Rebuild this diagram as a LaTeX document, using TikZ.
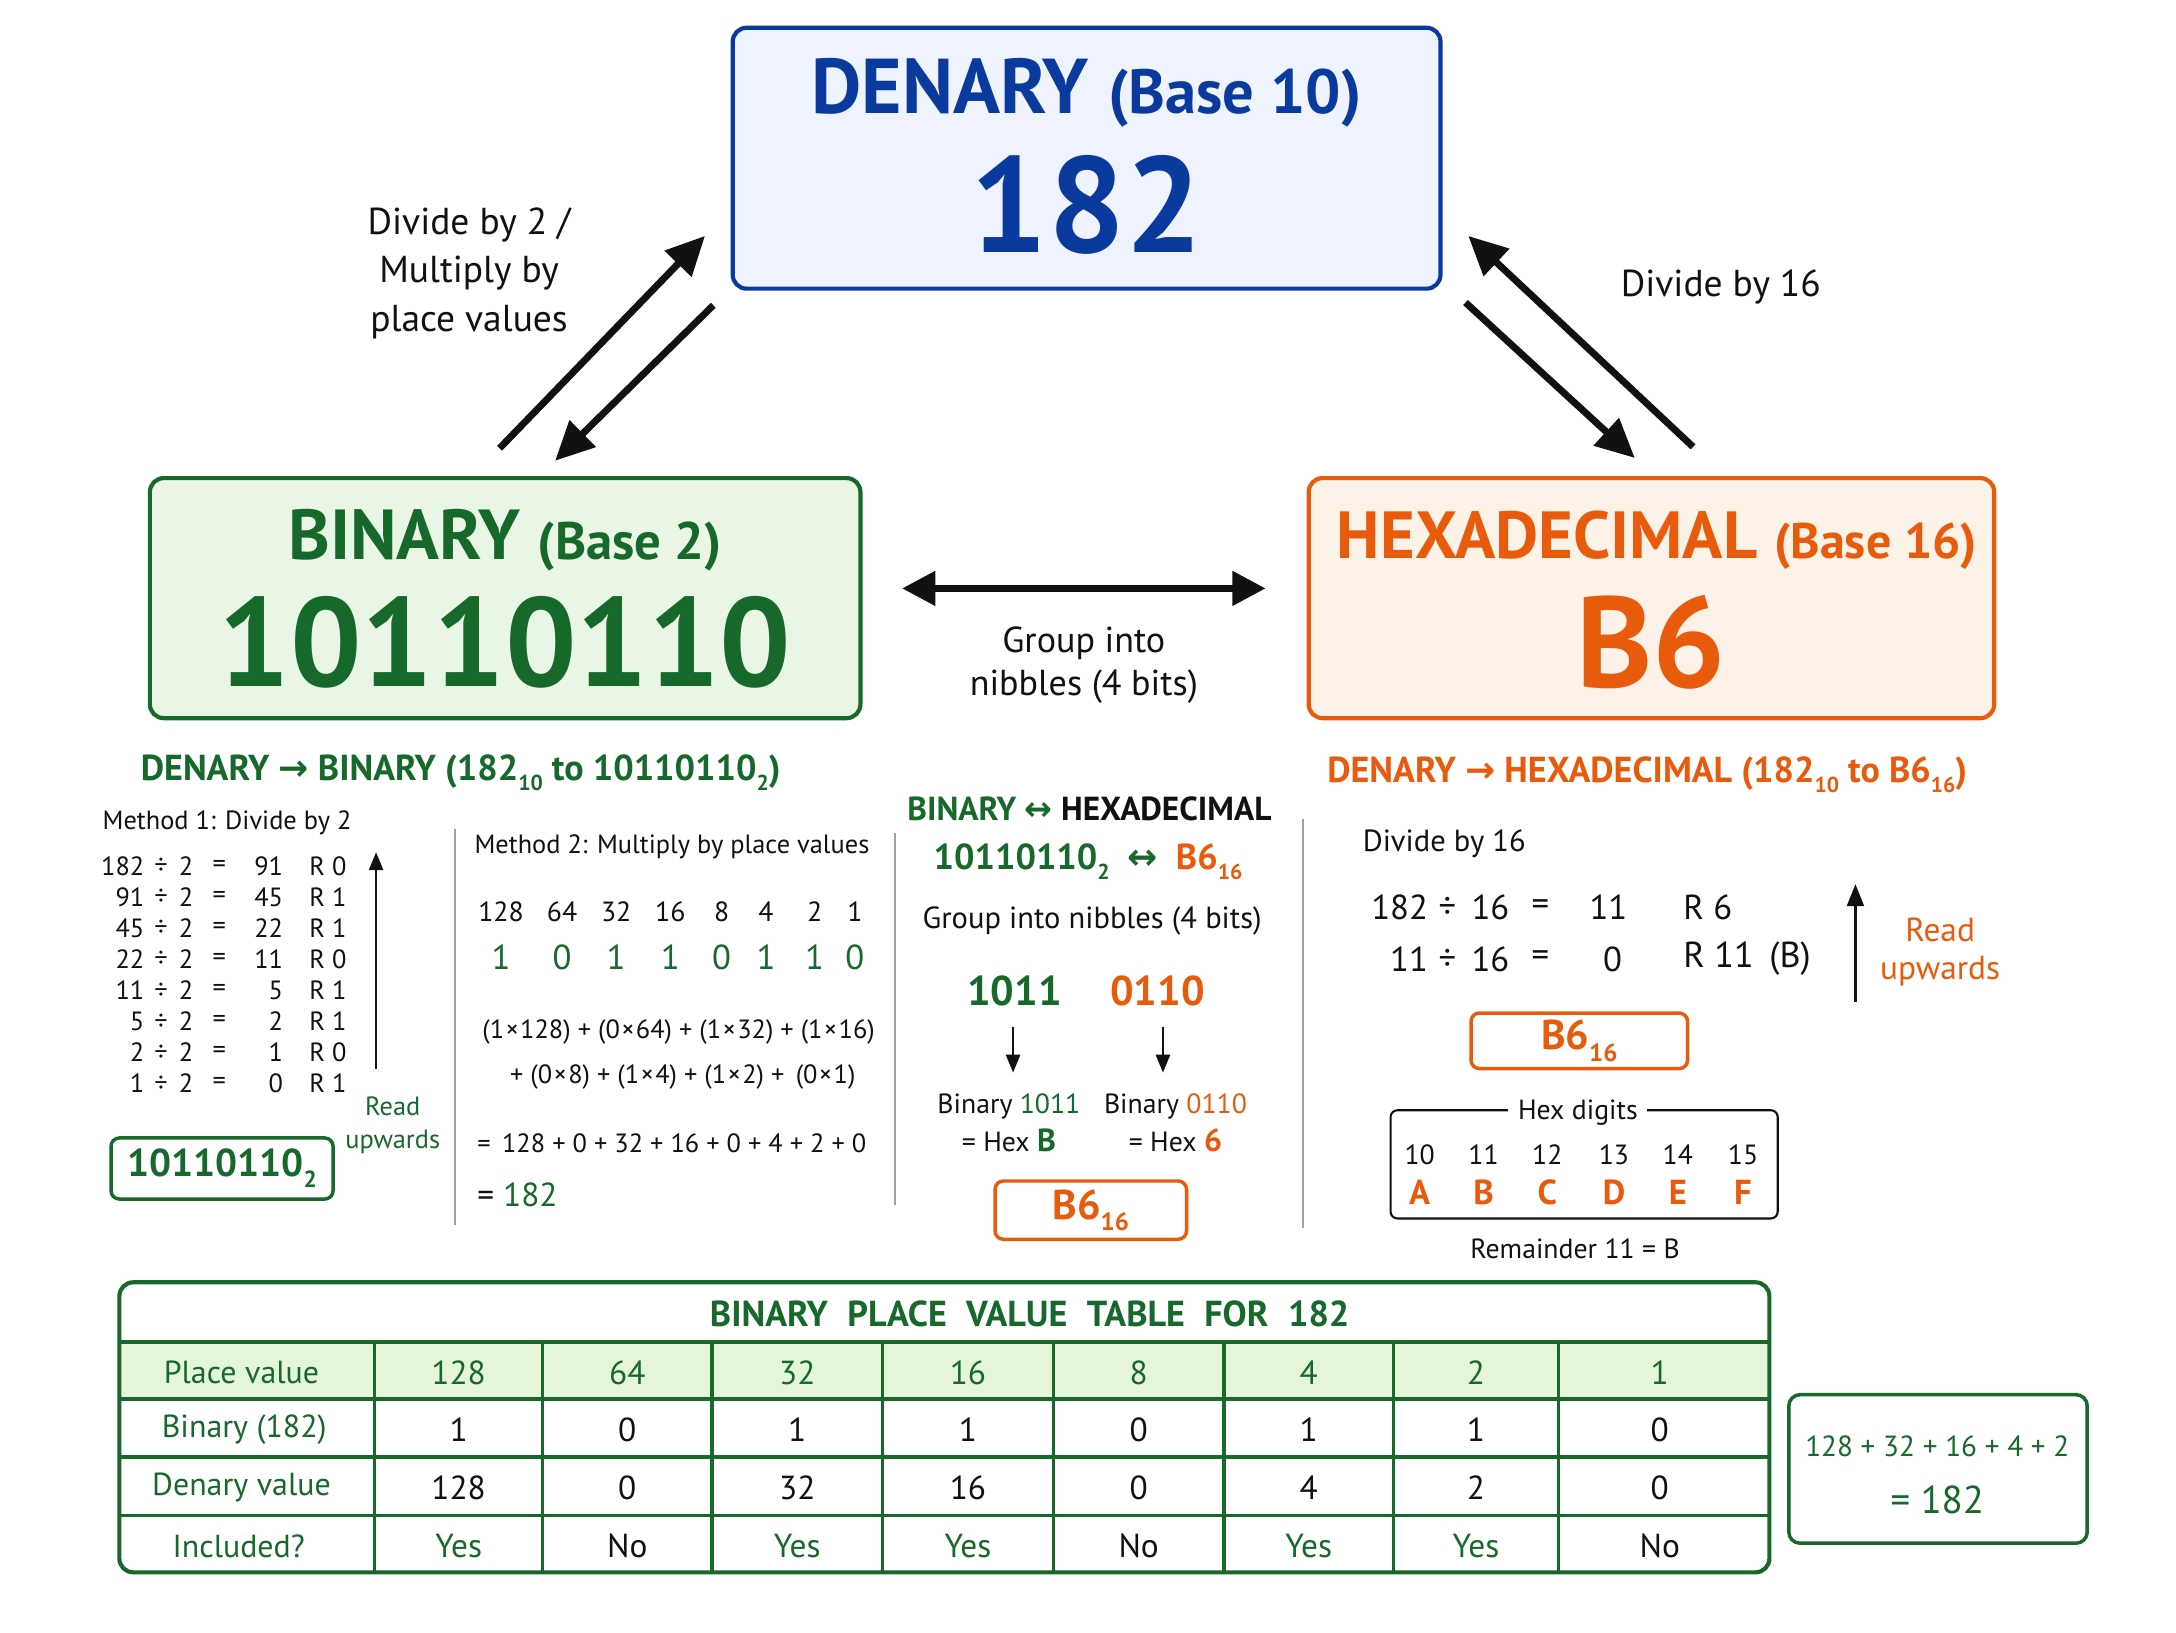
\documentclass[tikz,border=0pt]{standalone}
\usepackage{fontspec}
\usepackage{graphicx}
\setmainfont{PT Sans}
\newfontfamily\sym{DejaVu Sans}
\usetikzlibrary{arrows.meta}
\definecolor{dgreen}{HTML}{17692B}
\definecolor{lgreen}{HTML}{EAF6E5}
\definecolor{hgreen}{HTML}{E4F5D9}
\definecolor{dblue}{HTML}{0B3A9E}
\definecolor{lblue}{HTML}{EEF3FD}
\definecolor{dorange}{HTML}{E85B0C}
\definecolor{lorange}{HTML}{FDF2E8}
\definecolor{sepgray}{HTML}{A0A0A0}
\definecolor{ink}{HTML}{111111}
\newcommand\fsz[1]{\fontsize{#1}{#1}\selectfont}
\newcommand\sbs[1]{\raisebox{-0.28em}{\scalebox{0.6}{#1}}}
\begin{document}
\begin{tikzpicture}[x=1pt,y=-1pt,
  every node/.style={inner sep=0pt, outer sep=0pt, text=ink},
  mainbox/.style={line width=3, rounded corners=10},
  sepline/.style={draw=sepgray, line width=1},
  bigarrow/.style={draw=ink, line width=5, -{Triangle[length=28,width=26]}},
  bigdouble/.style={draw=ink, line width=5, {Triangle[length=24,width=24]}-{Triangle[length=24,width=24]}},
  thinarrow/.style={draw=ink, line width=2, -{Triangle[length=13,width=10]}},
  resbox/.style={line width=2.5, rounded corners=6},
  grid/.style={draw=dgreen, line width=2.5}
]
\useasboundingbox (0,0) rectangle (1568,1176);
\fill[white] (0,0) rectangle (1568,1176);

% ---------- main boxes ----------
\node[mainbox, draw=dblue, fill=lblue, minimum width=510, minimum height=188] (den) at (783,114) {};
\node[text=dblue, font=\bfseries] (denT) at (783,67) {\fsz{56}DENARY \fsz{45}(Base 10)};
\node[text=dblue, font=\fsz{98}\bfseries] (denV) at (783,148) {182};

\node[mainbox, draw=dgreen, fill=lgreen, minimum width=512, minimum height=173] (bin) at (364,431) {};
\node[text=dgreen, font=\bfseries] (binT) at (364,389) {\fsz{51}BINARY \fsz{38}(Base 2)};
\node[text=dgreen, font=\fsz{91}\bfseries] (binV) at (364,463) {10110110};

\node[mainbox, draw=dorange, fill=lorange, minimum width=494, minimum height=173] (hex) at (1190,431) {};
\node[text=dorange, font=\bfseries] (hexT) at (1194,389) {\fsz{48}HEXADECIMAL \fsz{36}(Base 16)};
\node[text=dorange, font=\fsz{93}\bfseries] (hexV) at (1190,463) {B6};

% ---------- big arrows ----------
\coordinate (a1s) at (360,323); \coordinate (a1e) at (508,170);
\coordinate (a2s) at (514,220); \coordinate (a2e) at (400,332);
\coordinate (a3s) at (1220,322); \coordinate (a3e) at (1058,170);
\coordinate (a4s) at (1056,218); \coordinate (a4e) at (1178,330);
\coordinate (hL) at (650,424); \coordinate (hR) at (912,424);
\draw[bigarrow] (a1s) -- (a1e);
\draw[bigarrow] (a2s) -- (a2e);
\draw[bigarrow] (a3s) -- (a3e);
\draw[bigarrow] (a4s) -- (a4e);
\draw[bigdouble] (hL) -- (hR);

\node[align=center, font=\fontsize{27}{35}\selectfont] (lblL) at (338,197) {Divide by 2 /\\Multiply by\\place values};
\node[font=\fsz{27}] (lblR) at (1240,207) {Divide by 16};
\node[align=center, font=\fontsize{26}{31}\selectfont] (lblM) at (781,479) {Group into\\nibbles (4 bits)};

% ---------- section headers ----------
\node[text=dgreen, font=\fsz{26}\bfseries] (secDB) at (332,557) {DENARY {\sym→} BINARY (182\sbs{10} to 10110110\sbs{2})};
\node[text=dorange, font=\fsz{26}\bfseries] (secDH) at (1187,558) {DENARY {\sym→} HEXADECIMAL (182\sbs{10} to B6\sbs{16})};

% ---------- separators ----------
\draw[sepline] (328,597) -- (328,883);
\draw[sepline] (645,600) -- (645,868);
\draw[sepline] (939,590) -- (939,885);

% ---------- method 1 ----------
\node[anchor=west, font=\fsz{19}] (m1T) at (74,593) {Method 1: Divide by 2};
\foreach \d/\q/\r [count=\i from 0] in {182/91/0, 91/45/1, 45/22/1, 22/11/0, 11/5/1, 5/2/1, 2/1/0, 1/0/1} {
  \pgfmathsetmacro\yy{624+22.4*\i}
  \node[anchor=east, font=\fsz{19}] (m1d\i) at (104,\yy) {\d};
  \node[font=\fsz{19}] (m1div\i) at (116,\yy) {÷};
  \node[font=\fsz{19}] (m1two\i) at (134,\yy) {2};
  \node[font=\fsz{19}] (m1eq\i) at (158,\yy) {=};
  \node[anchor=east, font=\fsz{19}] (m1q\i) at (204,\yy) {\q};
  \node[anchor=west, font=\fsz{19}] (m1r\i) at (223,\yy) {R \r};
}
\coordinate (m1up0) at (271,770); \coordinate (m1up1) at (271,614);
\draw[thinarrow] (m1up0) -- (m1up1);
\node[text=dgreen, align=center, font=\fontsize{19}{24}\selectfont] (m1read) at (283,811) {Read\\upwards};
\node[resbox, draw=dgreen, minimum width=160, minimum height=44, text=dgreen, font=\fsz{28}\bfseries] (m1res) at (160,842) {10110110\sbs{2}};

% ---------- method 2 ----------
\node[anchor=west, font=\fsz{19}] (m2T) at (342,610) {Method 2: Multiply by place values};
\foreach \x/\v/\b [count=\i] in {361/128/1, 405/64/0, 444/32/1, 483/16/1, 520/8/0, 552/4/1, 587/2/1, 616/1/0} {
  \node[font=\fsz{20}] (pv\i) at (\x,657) {\v};
  \node[text=dgreen, font=\fsz{25}] (pb\i) at (\x,690) {\b};
}
\node[font=\fsz{19}] (m2L1) at (489,744) {(1\kern1pt×\kern1pt128) + (0\kern1pt×\kern1pt64) + (1\kern1pt×\kern1pt32) + (1\kern1pt×\kern1pt16)};
\node[font=\fsz{19}] (m2L2) at (492,776) {+ (0\kern1pt×\kern1pt8) + (1\kern1pt×\kern1pt4) + (1\kern1pt×\kern1pt2) +\, (0\kern1pt×\kern1pt1)};
\node[anchor=west, font=\fsz{19}] (m2L3) at (344,824) {= \,128 + 0 + 32 + 16 + 0 + 4 + 2 + 0};
\node[anchor=west, font=\fsz{24}] (m2L4) at (344,861) {= \textcolor{dgreen}{182}};

% ---------- binary <-> hex ----------
\node[font=\fsz{24}\bfseries] (secBH) at (785,583) {\textcolor{dgreen}{BINARY} \textcolor{dgreen}{\sym↔} HEXADECIMAL};
\node[font=\fsz{26}\bfseries] (bhEq) at (784,621) {\textcolor{dgreen}{10110110\sbs{2}}\enspace\textcolor{dgreen}{\sym↔}\enspace\textcolor{dorange}{B6\sbs{16}}};
\node[font=\fsz{22}] (bhG) at (787,664) {Group into nibbles (4 bits)};
\node[text=dgreen, font=\fsz{30}\bfseries] (nib1) at (731,714) {1011};
\node[text=dorange, font=\fsz{30}\bfseries] (nib2) at (834,714) {0110};
\node[align=center, font=\fontsize{20}{27}\selectfont] (hb1) at (727,809) {Binary \textcolor{dgreen}{1011}\\= Hex \textcolor{dgreen}{\bfseries\fsz{23}B}};
\node[align=center, font=\fontsize{20}{27}\selectfont] (hb2) at (847,809) {Binary \textcolor{dorange}{0110}\\= Hex \textcolor{dorange}{\bfseries\fsz{23}6}};
\coordinate (n1a) at (730,740); \coordinate (n1b) at (730,773);
\coordinate (n2a) at (838,740); \coordinate (n2b) at (838,773);
\draw[thinarrow] (n1a) -- (n1b);
\draw[thinarrow] (n2a) -- (n2b);
\node[resbox, draw=dorange, minimum width=138, minimum height=42, text=dorange, font=\fsz{30}\bfseries] (midB6) at (786,872) {B6\sbs{16}};

% ---------- denary -> hex ----------
\node[anchor=west, font=\fsz{22}] (dh16) at (982,608) {Divide by 16};
\node[anchor=east, font=\fsz{25}] (h1a) at (1029,654) {182};
\node[font=\fsz{25}] (h1b) at (1043,654) {÷};
\node[font=\fsz{25}] (h1c) at (1074,654) {16};
\node[font=\fsz{25}] (h1d) at (1110,654) {=};
\node[font=\fsz{25}] (h1e) at (1159,654) {11};
\node[anchor=west, font=\fsz{25}] (h1f) at (1213,654) {R 6};
\node[anchor=east, font=\fsz{25}] (h2a) at (1029,691) {11};
\node[font=\fsz{25}] (h2b) at (1043,691) {÷};
\node[font=\fsz{25}] (h2c) at (1074,691) {16};
\node[font=\fsz{25}] (h2d) at (1110,691) {=};
\node[font=\fsz{25}] (h2e) at (1162,691) {0};
\node[anchor=west, font=\fsz{26}] (h2f) at (1213,691) {R 11 \,(B)};
\coordinate (hup0) at (1337,722); \coordinate (hup1) at (1337,637);
\draw[draw=ink, line width=2.5, -{Triangle[length=16,width=12]}] (hup0) -- (hup1);
\node[text=dorange, align=center, font=\fontsize{24}{28}\selectfont] (hread) at (1398,686) {Read\\upwards};
\node[resbox, draw=dorange, minimum width=156, minimum height=40, text=dorange, font=\fsz{30}\bfseries] (hB6) at (1138,750) {B6\sbs{16}};

\node[draw=ink, line width=1.5, rounded corners=5, minimum width=279, minimum height=78] (hexdig) at (1141.5,839) {};
\node[fill=white, inner xsep=7pt, font=\fsz{20}] (hexdigT) at (1137,802) {Hex digits};
\foreach \x/\n/\l [count=\i] in {1023/10/A, 1069/11/B, 1115/12/C, 1163/13/D, 1209/14/E, 1256/15/F} {
  \node[font=\fsz{20}] (hd\i) at (\x,832) {\n};
  \node[text=dorange, font=\fsz{25}\bfseries] (hl\i) at (\x,859) {\l};
}
\node[font=\fsz{20}] (hrem) at (1135,900) {Remainder 11 = B};

% ---------- table ----------
\fill[hgreen] (86,967) rectangle (1275,1008);
\node[draw=dgreen, line width=3, rounded corners=10, minimum width=1189, minimum height=209] (tbl) at (680.5,1028.5) {};
\foreach \yy in {967,1008,1050,1092} { \draw[grid] (86,\yy) -- (1275,\yy); }
\foreach \xx in {270,391,513,636,759,882,1004,1123} { \draw[grid] (\xx,967) -- (\xx,1133); }
\node[text=dgreen, font=\fsz{26}\bfseries] (tblT) at (742,947) {BINARY\hspace{14pt}PLACE\hspace{14pt}VALUE\hspace{14pt}TABLE\hspace{14pt}FOR\hspace{14pt}182};
\node[text=dgreen, font=\fsz{23}] (rl1) at (174,989) {Place value};
\node[text=dgreen, font=\fsz{23}] (rl2) at (176,1030) {Binary (182)};
\node[text=dgreen, font=\fsz{23}] (rl3) at (174,1072) {Denary value};
\node[text=dgreen, font=\fsz{23}] (rl4) at (172,1114) {Included?};
\foreach \x/\p/\b/\d/\inc/\ic [count=\i] in {330.5/128/1/128/Yes/dgreen, 452/64/0/0/No/ink, 574.5/32/1/32/Yes/dgreen, 697.5/16/1/16/Yes/dgreen, 820.5/8/0/0/No/ink, 943/4/1/4/Yes/dgreen, 1063.5/2/1/2/Yes/dgreen, 1196/1/0/0/No/ink} {
  \node[text=dgreen, font=\fsz{24}] (tp\i) at (\x,989) {\p};
  \node[font=\fsz{24}] (tb\i) at (\x,1030) {\b};
  \node[font=\fsz{24}] (td\i) at (\x,1072) {\d};
  \node[text=\ic, font=\fsz{24}] (ti\i) at (\x,1114) {\inc};
}

% ---------- sum box ----------
\node[draw=dgreen, line width=2.5, rounded corners=8, minimum width=215, minimum height=107] (sumbox) at (1396.5,1058.5) {};
\node[text=dgreen, font=\fsz{21}] (sum1) at (1396,1042) {128 + 32 + 16 + 4 + 2};
\node[text=dgreen, font=\fsz{28}] (sum2) at (1396,1081) {= 182};
\end{tikzpicture}
\end{document}
